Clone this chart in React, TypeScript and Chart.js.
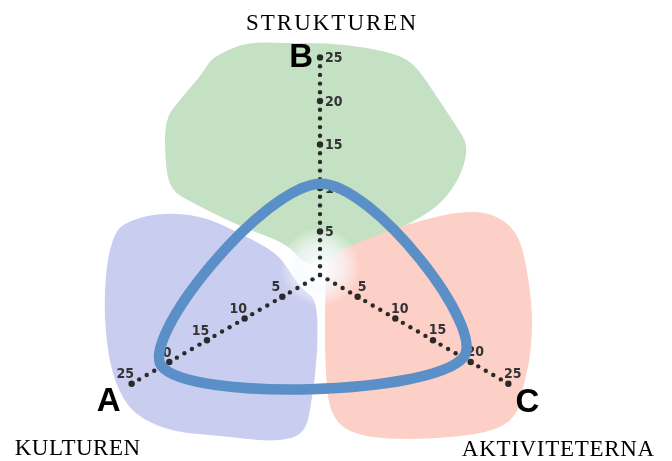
import React, { useEffect, useRef } from "react";
import { Chart, registerables } from "chart.js";

Chart.register(...registerables);

// ---- data ----
const axisLetters = ["B", "C", "A"];
const axisNames = ["STRUKTUREN", "AKTIVITETERNA", "KULTUREN"];
const profileValues = [10.5, 19, 21];
const tickValues = [5, 10, 15, 20, 25];
const tickLabels = ["5", "10", "15", "20", "25"];
const axisEnd = 25;

// ---- styling / decoration (pixel offsets relative to centre at reference scale) ----
const REF_R25 = 217.5;
const SCALE_MAX = (25 * 186) / REF_R25;

const greenBlob: [number, number][] = [
  [-70, -233], [-37, -232], [7, -232], [43, -228], [80, -220], [97, -208], [117, -178],
  [137, -148], [148, -130], [143, -105], [130, -82], [113, -65], [83, -48], [57, -35],
  [30, -15], [5, -8], [-17, -12], [-27, -25], [-43, -35], [-70, -45], [-93, -55],
  [-127, -72], [-150, -85], [-155, -115], [-155, -155], [-143, -172], [-117, -202],
  [-110, -215], [-93, -225],
];
const blueBlob: [number, number][] = [
  [-207, -38], [-197, -52], [-163, -62], [-120, -60], [-80, -42], [-43, -22], [-30, -3],
  [-17, 15], [-3, 25], [-2, 75], [-8, 125], [-15, 160], [-47, 167], [-97, 161],
  [-147, 157], [-180, 143], [-197, 125], [-210, 92], [-216, 42], [-214, -8],
];
const redBlob: [number, number][] = [
  [5, 25], [7, -18], [37, -32], [70, -45], [103, -55], [137, -63], [170, -63], [197, -45],
  [207, -8], [213, 42], [210, 85], [203, 112], [197, 142], [170, 158], [103, 165],
  [37, 162], [10, 142], [5, 92],
];

function smoothBlob(ctx: CanvasRenderingContext2D, pts: [number, number][], cx: number, cy: number, k: number, color: string) {
  const P = pts.map(([x, y]) => [cx + x * k, cy + y * k]);
  const n = P.length;
  ctx.beginPath();
  const m0 = [(P[n - 1][0] + P[0][0]) / 2, (P[n - 1][1] + P[0][1]) / 2];
  ctx.moveTo(m0[0], m0[1]);
  for (let i = 0; i < n; i++) {
    const a = P[i];
    const b = P[(i + 1) % n];
    ctx.quadraticCurveTo(a[0], a[1], (a[0] + b[0]) / 2, (a[1] + b[1]) / 2);
  }
  ctx.closePath();
  ctx.fillStyle = color;
  ctx.fill();
}

const decorPlugin = {
  id: "decor",
  beforeDraw(chart: any) {
    const s = chart.scales.r;
    if (!s) return;
    const ctx: CanvasRenderingContext2D = chart.ctx;
    const cx = s.xCenter;
    const cy = s.yCenter;
    const k = s.getDistanceFromCenterForValue(25) / REF_R25;
    ctx.save();
    smoothBlob(ctx, greenBlob, cx, cy, k, "#c4e1c4");
    smoothBlob(ctx, blueBlob, cx, cy, k, "#c9cdf0");
    smoothBlob(ctx, redBlob, cx, cy, k, "#fcd0c6");
    const g = ctx.createRadialGradient(cx, cy - 8 * k, 2, cx, cy - 8 * k, 40 * k);
    g.addColorStop(0, "rgba(255,255,255,0.95)");
    g.addColorStop(0.55, "rgba(245,250,255,0.7)");
    g.addColorStop(1, "rgba(255,255,255,0)");
    ctx.fillStyle = g;
    ctx.beginPath();
    ctx.arc(cx, cy - 8 * k, 40 * k, 0, Math.PI * 2);
    ctx.fill();
    ctx.restore();
  },
  beforeDatasetsDraw(chart: any) {
    const s = chart.scales.r;
    const ctx: CanvasRenderingContext2D = chart.ctx;
    ctx.save();
    ctx.fillStyle = "#2a2a2a";
    for (let i = 0; i < axisLetters.length; i++) {
      for (let v = 0; v <= axisEnd; v++) {
        const p = s.getPointPositionForValue(i, v);
        const big = v > 0 && v % 5 === 0;
        ctx.beginPath();
        ctx.arc(p.x, p.y, big ? 3.2 : 2.2, 0, Math.PI * 2);
        ctx.fill();
      }
    }
    ctx.font = 'bold 14px "Liberation Sans Narrow", "DejaVu Sans Condensed", sans-serif';
    ctx.fillStyle = "#333333";
    ctx.textBaseline = "middle";
    for (let i = 0; i < axisLetters.length; i++) {
      tickValues.forEach((v, j) => {
        const p = s.getPointPositionForValue(i, v);
        if (i === 0) {
          ctx.textAlign = "left";
          ctx.fillText(tickLabels[j], p.x + 5, p.y + 1);
        } else if (i === 1) {
          ctx.textAlign = "center";
          ctx.fillText(tickLabels[j], p.x + 4.5, p.y - 9.5);
        } else {
          ctx.textAlign = "center";
          ctx.fillText(tickLabels[j], p.x - 6.5, p.y - 9);
        }
      });
    }
    ctx.restore();
  },
  afterDraw(chart: any) {
    const s = chart.scales.r;
    const ctx: CanvasRenderingContext2D = chart.ctx;
    ctx.save();
    ctx.fillStyle = "#000000";
    ctx.textBaseline = "alphabetic";
    const letterOff = [[-7, 9, "right"], [19, 28, "center"], [-23, 27, "center"]];
    const nameOff = [[12, -28, 2.0], [50, 72, 0.7], [-54, 71, 0.5]];
    for (let i = 0; i < axisLetters.length; i++) {
      const p = s.getPointPositionForValue(i, axisEnd);
      ctx.font = 'bold 33px "Liberation Sans", Arial, sans-serif';
      ctx.textAlign = letterOff[i][2] as CanvasTextAlign;
      (ctx as any).letterSpacing = "0px";
      ctx.fillText(axisLetters[i], p.x + (letterOff[i][0] as number), p.y + (letterOff[i][1] as number));
      ctx.font = '23px "Liberation Serif", "Times New Roman", serif';
      ctx.textAlign = "center";
      (ctx as any).letterSpacing = nameOff[i][2] + "px";
      ctx.fillText(axisNames[i], p.x + nameOff[i][0], p.y + nameOff[i][1]);
    }
    ctx.restore();
  },
};

export default function App() {
  const ref = useRef<HTMLCanvasElement>(null);
  useEffect(() => {
    document.body.style.margin = "0";
    const chart = new Chart(ref.current as HTMLCanvasElement, {
      type: "radar",
      data: {
        labels: axisLetters,
        datasets: [
          {
            data: profileValues,
            borderColor: "#5b8fc7",
            borderWidth: 10.5,
            backgroundColor: "rgba(0,0,0,0)",
            fill: false,
            pointRadius: 0,
            pointHoverRadius: 0,
            tension: 0.36,
            borderJoinStyle: "round",
            clip: false,
          } as any,
        ],
      },
      options: {
        animation: false,
        responsive: true,
        maintainAspectRatio: false,
        layout: { padding: { left: 134, right: 166, top: 89, bottom: 0 } },
        plugins: { legend: { display: false }, tooltip: { enabled: false } },
        scales: {
          r: {
            min: 0,
            max: SCALE_MAX,
            ticks: { display: false },
            grid: { display: false },
            angleLines: { display: false },
            pointLabels: { display: false },
          },
        },
      },
      plugins: [decorPlugin],
    });
    return () => chart.destroy();
  }, []);
  return (
    <div style={{ position: "absolute", left: 0, top: 0, width: 672, height: 461, background: "#ffffff" }}>
      <canvas ref={ref} />
    </div>
  );
}
